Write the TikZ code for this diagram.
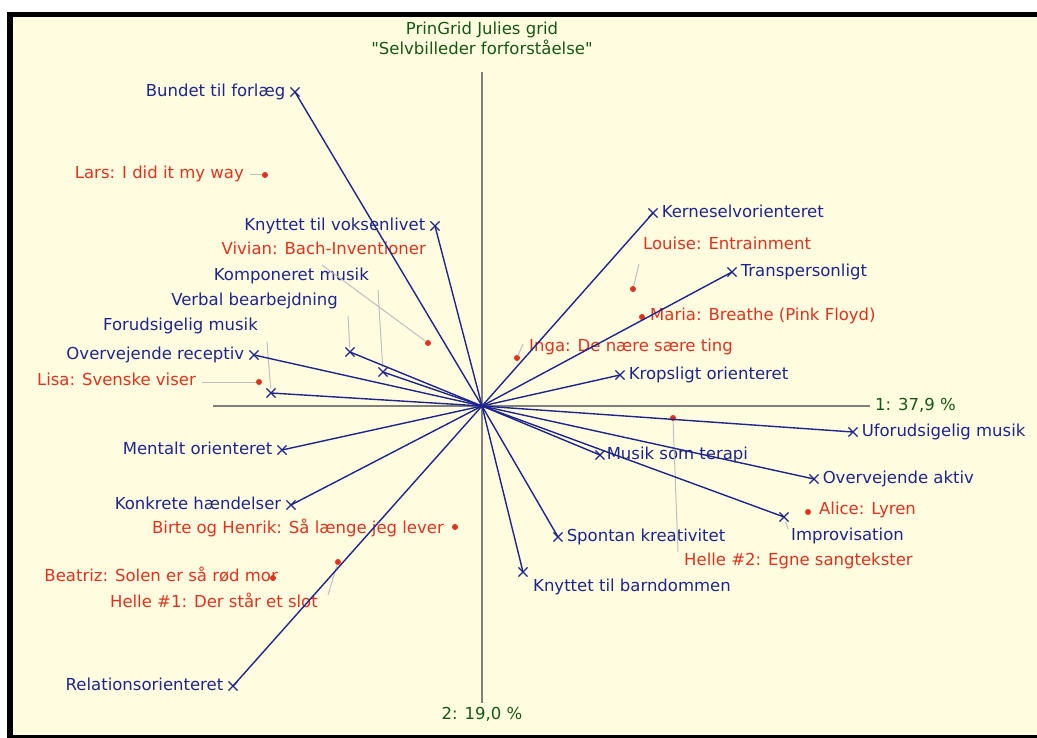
\documentclass[tikz,border=0pt]{standalone}
\usepackage{fontspec}
\setmainfont{DejaVu Sans}[Ligatures=TeXOff]
\usetikzlibrary{positioning}
\usetikzlibrary{shapes.misc}
\definecolor{cream}{RGB}{255,252,224}
\definecolor{navy}{RGB}{30,38,140}
\definecolor{brick}{RGB}{222,52,30}
\definecolor{gridgreen}{RGB}{22,88,22}
\tikzstyle{pole} = [cross out, 
draw=navy, 
line width=1.1pt, 
minimum size=8pt, 
inner sep=0pt]
\tikzstyle{element} = [circle, 
fill=brick, 
minimum size=6pt, 
inner sep=0pt]
\tikzstyle{construct} = [text=navy, 
inner sep=1pt, 
text height=12pt, text depth=3.5pt,
font=\fontsize{16.5}{19}\selectfont]
\tikzstyle{person} = [construct, text=brick]
\tikzstyle{heading} = [construct, text=gridgreen, inner sep=0pt]
\tikzstyle{arm} = [navy, line width=1.4pt]
\tikzstyle{leader} = [black!25, line width=1pt]
\tikzstyle{axis} = [black!50, line width=1.5pt]

\begin{document}
\begin{tikzpicture}[x=1pt, y=-1pt]
            \useasboundingbox (0,0) rectangle (1037,738);
            \fill [black] (7,12) rectangle (1037,738);
            \fill [cream] (13,17) rectangle (1037,735);

            \node (title1) [heading] at (482,30) {PrinGrid Julies grid};
            \node (title2) [heading, below=4pt of title1] {"Selvbilleder forforståelse"};

            % axes
            \coordinate (o) at (482,406);
            \coordinate (west) at (213,406);
            \coordinate (east) at (870,406);
            \coordinate (north) at (482,72);
            \coordinate (south) at (482,703);
            \draw [axis] (west) -- (east);
            \draw [axis] (north) -- (south);
            \node (ax1) [heading, right=5pt of east] {1: 37,9 \%};
            \node (ax2) [heading, below=4pt of south] {2: 19,0 \%};

            % constructs
            \node (bundet) [pole] at (295,92) {};
            \node (voksen) [pole] at (435,226) {};
            \node (kompon) [pole] at (383,372) {};
            \node (verbal) [pole] at (350,352) {};
            \node (forud) [pole] at (271,393) {};
            \node (overrec) [pole] at (254,355) {};
            \node (mental) [pole] at (282,450) {};
            \node (konkret) [pole] at (291,505) {};
            \node (relation) [pole] at (233,686) {};
            \node (kerne) [pole] at (653,213) {};
            \node (transp) [pole] at (732,272) {};
            \node (krops) [pole] at (620,375) {};
            \node (uforud) [pole] at (853,432) {};
            \node (terapi) [pole] at (600,455) {};
            \node (aktiv) [pole] at (814,479) {};
            \node (improv) [pole] at (784,517) {};
            \node (spontan) [pole] at (558,537) {};
            \node (barndom) [pole] at (523,572) {};

            \node (bundetL) [construct, left=4pt of bundet] {Bundet til forlæg};
            \node (voksenL) [construct, left=4pt of voksen] {Knyttet til voksenlivet};
            \node (komponL) [construct, anchor=east] at (370,276) {Komponeret musik};
            \node (verbalL) [construct, anchor=east] at (339,301) {Verbal bearbejdning};
            \node (forudL) [construct, anchor=east] at (259,326) {Forudsigelig musik};
            \node (overrecL) [construct, left=4pt of overrec] {Overvejende receptiv};
            \node (mentalL) [construct, left=4pt of mental] {Mentalt orienteret};
            \node (konkretL) [construct, left=4pt of konkret] {Konkrete hændelser};
            \node (relationL) [construct, left=4pt of relation] {Relationsorienteret};
            \node (kerneL) [construct, right=3pt of kerne] {Kerneselvorienteret};
            \node (transpL) [construct, right=3pt of transp] {Transpersonligt};
            \node (kropsL) [construct, right=3pt of krops] {Kropsligt orienteret};
            \node (uforudL) [construct, right=3pt of uforud] {Uforudsigelig musik};
            \node (terapiL) [construct, right=1pt of terapi] {Musik som terapi};
            \node (aktivL) [construct, right=3pt of aktiv] {Overvejende aktiv};
            \node (improvL) [construct, anchor=west] at (790,536) {Improvisation};
            \node (spontanL) [construct, right=3pt of spontan] {Spontan kreativitet};
            \node (barndomL) [construct, anchor=west] at (532,587) {Knyttet til barndommen};

            % elements
            \node (larsL) [person, anchor=east] at (245,174) {Lars: I did it my way};
            \node (vivianL) [person, anchor=east] at (427,250) {Vivian: Bach-Inventioner};
            \node (lisaL) [person, anchor=east] at (197,381) {Lisa: Svenske viser};
            \node (birteL) [person, anchor=east] at (445,529) {Birte og Henrik: Så længe jeg lever};
            \node (beatrizL) [person, anchor=east] at (279,577) {Beatriz: Solen er så rød mor};
            \node (helle1L) [person, anchor=east] at (319,603) {Helle \#1: Der står et slot};
            \node (louiseL) [person, anchor=west] at (642,245) {Louise: Entrainment};
            \node (mariaL) [person, anchor=west] at (649,316) {Maria: Breathe (Pink Floyd)};
            \node (ingaL) [person, anchor=west] at (528,347) {Inga: De nære sære ting};
            \node (helle2L) [person, anchor=west] at (683,561) {Helle \#2: Egne sangtekster};
            \node (aliceL) [person, anchor=west] at (818,510) {Alice: Lyren};

            \node (lars) [element] at (265,175) {};
            \node (vivian) [element] at (428,343) {};
            \node (lisa) [element] at (259,382) {};
            \node (birte) [element] at (455,527) {};
            \node (beatriz) [element] at (273,578) {};
            \node (helle1) [element] at (338,562) {};
            \node (louise) [element] at (633,289) {};
            \node (maria) [element] at (642,317) {};
            \node (inga) [element] at (517,358) {};
            \node (helle2) [element] at (673,418) {};
            \node (alice) [element] at (808,512) {};

            % leaders
            \coordinate (larsT) at (250,175);
            \coordinate (vivianT) at (322,265);
            \coordinate (lisaT) at (202,382);
            \coordinate (helle1T) at (328,595);
            \coordinate (louiseT) at (639,264);
            \coordinate (ingaT) at (523,344);
            \coordinate (helle2T) at (678,552);
            \coordinate (komponT) at (378,290);
            \coordinate (verbalT) at (348,316);
            \coordinate (forudT) at (267,342);
            \coordinate (improvT) at (788,529);
            \draw [leader] (larsT) -- (lars);
            \draw [leader] (vivianT) -- (vivian);
            \draw [leader] (lisaT) -- (lisa);
            \draw [leader] (helle1T) -- (helle1);
            \draw [leader] (louiseT) -- (louise);
            \draw [leader] (ingaT) -- (inga);
            \draw [leader] (helle2T) -- (helle2);
            \draw [leader] (komponT) -- (kompon);
            \draw [leader] (verbalT) -- (verbal);
            \draw [leader] (forudT) -- (forud);
            \draw [leader] (improvT) -- (improv);

            % construct arms
            \draw [arm] (o) -- (bundet.center);
            \draw [arm] (o) -- (voksen.center);
            \draw [arm] (o) -- (kompon.center);
            \draw [arm] (o) -- (verbal.center);
            \draw [arm] (o) -- (forud.center);
            \draw [arm] (o) -- (overrec.center);
            \draw [arm] (o) -- (mental.center);
            \draw [arm] (o) -- (konkret.center);
            \draw [arm] (o) -- (relation.center);
            \draw [arm] (o) -- (kerne.center);
            \draw [arm] (o) -- (transp.center);
            \draw [arm] (o) -- (krops.center);
            \draw [arm] (o) -- (uforud.center);
            \draw [arm] (o) -- (terapi.center);
            \draw [arm] (o) -- (aktiv.center);
            \draw [arm] (o) -- (improv.center);
            \draw [arm] (o) -- (spontan.center);
            \draw [arm] (o) -- (barndom.center);
        \end{tikzpicture}
\end{document}
